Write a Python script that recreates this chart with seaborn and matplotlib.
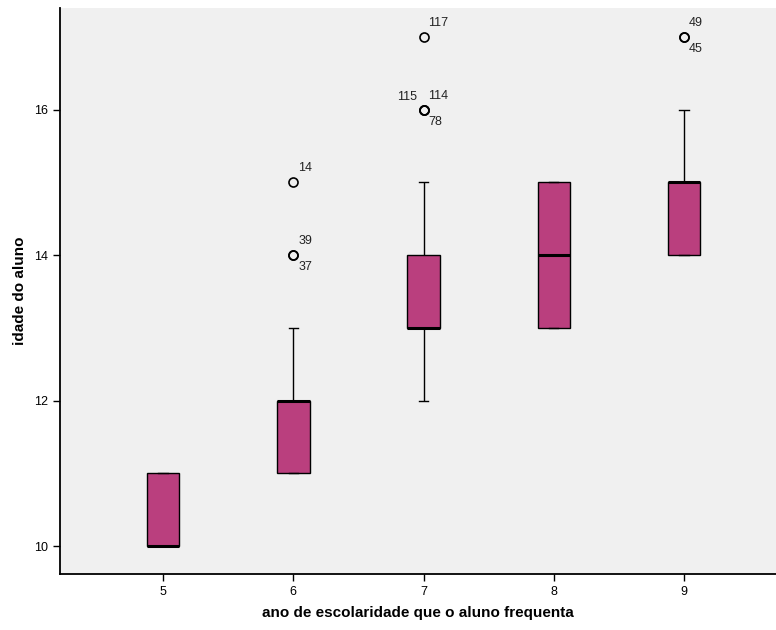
import matplotlib
matplotlib.use("Agg")
import matplotlib.pyplot as plt
import seaborn as sns
import pandas as pd

# idades por ano de escolaridade
anos = [5, 6, 7, 8, 9]
idade_5 = [10, 10, 10, 11, 11]
idade_6 = [11] * 6 + [12] * 10 + [13] * 2 + [14, 14, 15]
idade_7 = [12] * 2 + [13] * 11 + [14] * 6 + [15] * 2 + [16, 16, 16, 17]
idade_8 = [13, 13, 13, 14, 14, 15, 15, 15, 15]
idade_9 = [14] * 4 + [15] * 6 + [16] + [17, 17]

# casos atípicos: (ano, idade, número do caso, posição do rótulo)
out_ano = [6, 6, 6, 7, 7, 7, 7, 9, 9]
out_idade = [15, 14, 14, 17, 16, 16, 16, 17, 17]
out_caso = ["14", "39", "37", "117", "115", "114", "78", "49", "45"]
out_pos = ["ur", "ur", "dr", "ur", "ul", "ur", "dr", "ur", "dr"]

grupos = [idade_5, idade_6, idade_7, idade_8, idade_9]
df = pd.DataFrame({
    "ano": [str(a) for a, g in zip(anos, grupos) for _ in g],
    "idade": [v for g in grupos for v in g],
})

plt.rcParams["font.family"] = ["Liberation Sans", "DejaVu Sans"]

fig = plt.figure(figsize=(7.76, 6.30), dpi=100)
ax = fig.add_axes([0.0773, 0.0889, 0.9227, 0.8984])
ax.set_facecolor("#F0F0F0")

sns.boxplot(data=df, x="ano", y="idade", order=[str(a) for a in anos],
            color="#BA3F7E", width=0.25, whis=1.5, saturation=1,
            linecolor="black", linewidth=1.0, capwidths=0.07,
            medianprops=dict(color="black", linewidth=2.2),
            flierprops=dict(marker="o", markersize=6.5, markerfacecolor="none",
                            markeredgecolor="black", markeredgewidth=1.2),
            ax=ax)

offsets = {"ur": ((5, 8), "left", "bottom"),
           "dr": ((5, -6), "left", "top"),
           "ul": ((-6, 7), "right", "bottom")}
ordem = [str(a) for a in anos]
for a, v, c, p in zip(out_ano, out_idade, out_caso, out_pos):
    off, ha, va = offsets[p]
    ax.annotate(c, (ordem.index(str(a)), v), xytext=off, textcoords="offset pixels",
                ha=ha, va=va, fontsize=9, color="#222222")

ax.set_xlim(-0.791, 4.706)
ax.set_ylim(9.615, 17.40)
ax.set_yticks([10, 12, 14, 16])
for s in ["top", "right"]:
    ax.spines[s].set_visible(False)
for s in ["left", "bottom"]:
    ax.spines[s].set_color("black")
    ax.spines[s].set_linewidth(1.3)
ax.tick_params(axis="both", labelsize=9, length=5, width=1, colors="black")
ax.set_xlabel("ano de escolaridade que o aluno frequenta", fontsize=11, fontweight="bold", labelpad=6)
ax.set_ylabel("idade do aluno", fontsize=11, fontweight="bold", labelpad=5)

fig.savefig("out.png", dpi=100)
